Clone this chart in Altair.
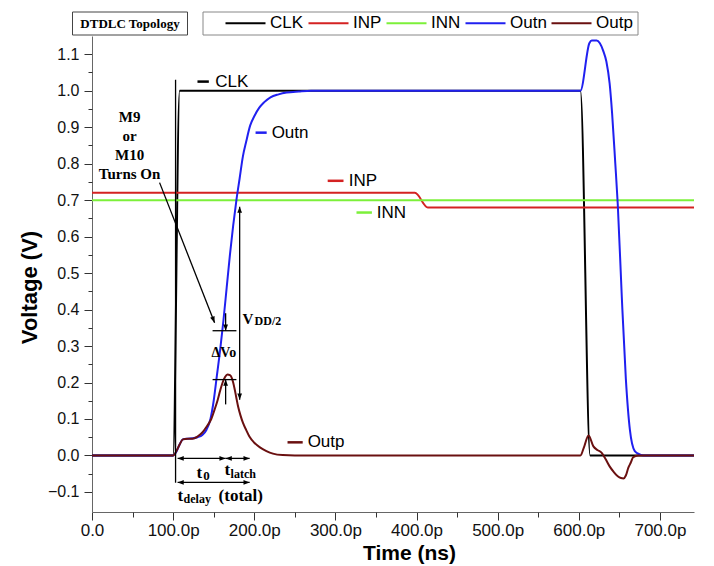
import altair as alt
import pandas as pd

# ---------------- data ----------------
names = ["CLK", "INP", "INN", "Outn", "Outp"]
colors = ["#000000", "#d42222", "#7cf03a", "#2020f0", "#6a1010"]

clk_t = [0, 100, 108, 602, 614, 742]
clk_v = [0, 0, 1.0, 1.0, 0, 0]

inp_t = [0, 398, 414, 742]
inp_v = [0.72, 0.72, 0.68, 0.68]

inn_t = [0, 742]
inn_v = [0.70, 0.70]

outn_t = [0, 100, 104, 108, 112, 118, 124, 130, 136, 141, 146, 150, 154, 158, 162, 166,
          170, 174, 178, 182, 186, 190, 195, 200, 206, 212, 220, 230, 240, 255, 270, 300,
          602, 613, 616, 622, 626, 630, 634, 638, 641, 645, 648, 653, 658, 663, 669, 675, 680, 742]
outn_v = [0, 0, 0.01, 0.03, 0.044, 0.046, 0.047, 0.05, 0.056, 0.07, 0.10, 0.15, 0.22, 0.29, 0.37, 0.46,
          0.55, 0.63, 0.70, 0.76, 0.82, 0.86, 0.905, 0.93, 0.953, 0.968, 0.982, 0.99, 0.995, 0.998, 1.0, 1.0,
          1.0, 1.13, 1.138, 1.138, 1.13, 1.11, 1.08, 1.02, 0.94, 0.80, 0.69, 0.435, 0.21, 0.07, 0.012, 0.003, 0.0, 0.0]

outp_t = [0, 100, 104, 108, 112, 118, 124, 130, 136, 141, 147, 151, 155, 158, 161, 164, 167,
          170, 172, 174, 176, 178, 180, 183, 186, 190, 194, 200, 207, 215, 223, 235, 250,
          602, 606, 612, 618, 623, 628, 633, 638, 643, 648, 652, 655, 658, 661, 664, 667, 673, 742]
outp_v = [0, 0, 0.012, 0.03, 0.044, 0.046, 0.046, 0.052, 0.063, 0.078, 0.10, 0.125, 0.153, 0.178, 0.20, 0.215, 0.222,
          0.22, 0.214, 0.20, 0.18, 0.157, 0.135, 0.11, 0.09, 0.07, 0.052, 0.035, 0.022, 0.012, 0.005, 0.001, 0,
          0, 0.02, 0.055, 0.025, 0.015, 0.008, -0.01, -0.03, -0.045, -0.057, -0.062, -0.063, -0.055, -0.034, -0.02, -0.005, 0, 0]

series_t = [clk_t, inp_t, inn_t, outn_t, outp_t]
series_v = [clk_v, inp_v, inn_v, outn_v, outp_v]

x_ticks = [0, 100, 200, 300, 400, 500, 600, 700]
x_minor = [50, 150, 250, 350, 450, 550, 650]
y_ticks = [-0.1, 0.0, 0.1, 0.2, 0.3, 0.4, 0.5, 0.6, 0.7, 0.8, 0.9, 1.0, 1.1]
y_minor = [-0.05, 0.05, 0.15, 0.25, 0.35, 0.45, 0.55, 0.65, 0.75, 0.85, 0.95, 1.05]

# in-plot series labels: segment start/end time, level, text start time
lab_series = ["CLK", "Outn", "INP", "INN", "Outp"]
lab_t1 = [130, 201.6, 290.5, 326, 241]
lab_t2 = [144, 215.3, 310, 345, 259.7]
lab_v = [1.025, 0.885, 0.753, 0.666, 0.036]
lab_tt = [152, 221.4, 316.4, 351, 265.8]

# annotation segments
seg_t1 = [103, 83.3, 182, 148.6, 148.6, 164.7, 164.7, 105.5, 164.7, 105.5]
seg_v1 = [1.03, 0.748, 0.682, 0.342, 0.208, 0.39, 0.14, -0.008, -0.008, -0.074]
seg_t2 = [103, 151.1, 182, 178, 178, 164.7, 164.7, 164.7, 194.3, 194.3]
seg_v2 = [-0.075, 0.364, 0.153, 0.342, 0.208, 0.342, 0.208, -0.008, -0.008, -0.074]

# arrow heads: position and direction (deg, clockwise from up)
head_t = [151.1, 182, 182, 164.7, 164.7, 105.5, 164.7, 164.7, 194.3, 105.5, 194.3]
head_v = [0.364, 0.682, 0.153, 0.342, 0.208, -0.008, -0.008, -0.008, -0.008, -0.074, -0.074]
head_a = [158.6, 0, 180, 180, 0, 270, 90, 270, 90, 270, 90]

# annotation texts (bold serif)
ann_text = ["V", "DD/2", "\u0394Vo", "t", "0", "t", "latch", "t", "delay", "(total)"]
ann_t = [185.6, 200.4, 147.4, 128.9, 137.0, 163.4, 170.8, 105.5, 112.9, 156]
ann_v = [0.373, 0.368, 0.282, -0.047, -0.056, -0.041, -0.050, -0.110, -0.119, -0.112]
ann_fs = [15, 12, 14, 17, 13, 17, 12, 17, 12, 17]

m9_text = ["M9\nor\nM10\nTurns On"]
m9_t = [46.3]
m9_v = [0.929]

# ---------------- tables ----------------
rows = []
for n, ts, vs in zip(names, series_t, series_v):
    for t, v in zip(ts, vs):
        rows.append({"series": n, "t": t, "v": v})
df = pd.DataFrame(rows)

cmap = dict(zip(names, colors))
labs = pd.DataFrame({"series": lab_series, "t1": lab_t1, "t2": lab_t2, "v": lab_v, "tt": lab_tt})
labs["col"] = labs["series"].map(cmap)
segs = pd.DataFrame({"t1": seg_t1, "v1": seg_v1, "t2": seg_t2, "v2": seg_v2})
heads = pd.DataFrame({"t": head_t, "v": head_v, "a": head_a})
anns = pd.DataFrame({"text": ann_text, "t": ann_t, "v": ann_v, "fs": ann_fs})
m9 = pd.DataFrame({"text": m9_text, "t": m9_t, "v": m9_v})

# ---------------- scales / axes ----------------
XS = alt.Scale(domain=[0, 742], nice=False, zero=False)
YS = alt.Scale(domain=[-0.155, 1.15], nice=False, zero=False)
CS = alt.Scale(domain=names, range=colors)

SANS = "Liberation Sans"
SERIF = "Liberation Serif"

x_main = alt.Axis(orient="bottom", values=x_ticks,
                  labelExpr="datum.value == 0 ? '0.0' : format(datum.value, '.1f') + 'p'",
                  tickSize=8, tickColor="#333", domainColor="#666", labelFont=SANS, labelFontSize=17,
                  labelColor="#111", labelPadding=2, grid=False, labelFlush=False,
                  title="Time (ns)", titleFont=SANS, titleFontSize=21, titleFontWeight="bold",
                  titleColor="#000", titleX=317, titleY=47, titleBaseline="alphabetic")
y_main = alt.Axis(orient="left", values=y_ticks, format=".1f",
                  tickSize=8, tickColor="#333", domainColor="#666", labelFont=SANS, labelFontSize=16,
                  labelColor="#111", labelPadding=5, grid=False, labelFlush=False,
                  title="Voltage (V)", titleFont=SANS, titleFontSize=22, titleFontWeight="bold",
                  titleColor="#000", titleX=-56, titleY=251, titleBaseline="alphabetic", titleAngle=270)
x_min = alt.Axis(orient="bottom", values=x_minor, labels=False, tickSize=5, tickColor="#333",
                 domain=False, grid=False, title=None)
y_min = alt.Axis(orient="left", values=y_minor, labels=False, tickSize=4, tickColor="#333",
                 domain=False, grid=False, title=None)

leg = alt.Legend(orient="none", legendX=129, legendY=-37.5, direction="horizontal", title=None,
                 symbolType="stroke", symbolSize=1600, symbolStrokeWidth=2.2,
                 labelFont=SANS, labelFontSize=17, labelColor="#000", labelOffset=3,
                 columnPadding=0, padding=3)

layers = []
for i, n in enumerate(names):
    layers.append(
        alt.Chart(df[df.series == n]).mark_line(strokeWidth=2, interpolate="monotone").encode(
            x=alt.X("t:Q", scale=XS, axis=x_main if i == 0 else None),
            y=alt.Y("v:Q", scale=YS, axis=y_main if i == 0 else None),
            color=alt.Color("series:N", scale=CS, legend=leg),
        )
    )

minor = alt.Chart(df).mark_point(opacity=0).encode(
    x=alt.X("t:Q", scale=XS, axis=x_min),
    y=alt.Y("v:Q", scale=YS, axis=y_min),
)

lab_seg = alt.Chart(labs).mark_rule(strokeWidth=2.5).encode(
    x=alt.X("t1:Q", scale=XS, axis=None), x2="t2:Q",
    y=alt.Y("v:Q", scale=YS, axis=None),
    color=alt.Color("col:N", scale=None),
)
lab_txt = alt.Chart(labs).mark_text(font=SANS, fontSize=17, align="left", baseline="middle", color="#000").encode(
    x=alt.X("tt:Q", scale=XS, axis=None),
    y=alt.Y("v:Q", scale=YS, axis=None),
    text="series:N",
)

seg = alt.Chart(segs).mark_rule(color="#000", strokeWidth=1.3).encode(
    x=alt.X("t1:Q", scale=XS, axis=None), x2="t2:Q",
    y=alt.Y("v1:Q", scale=YS, axis=None), y2="v2:Q",
)
ARROW = "M0,0L-0.5,1.3L0.5,1.3Z"
head = alt.Chart(heads).mark_point(shape=ARROW, filled=True, size=90, color="#000", opacity=1).encode(
    x=alt.X("t:Q", scale=XS, axis=None),
    y=alt.Y("v:Q", scale=YS, axis=None),
    angle=alt.Angle("a:Q", scale=None),
)
ann = alt.Chart(anns).mark_text(font=SERIF, fontWeight="bold", align="left", baseline="middle", color="#000").encode(
    x=alt.X("t:Q", scale=XS, axis=None),
    y=alt.Y("v:Q", scale=YS, axis=None),
    text="text:N",
    size=alt.Size("fs:Q", scale=None),
)
m9t = alt.Chart(m9).mark_text(font=SERIF, fontWeight="bold", fontSize=15, align="center", baseline="middle",
                              lineBreak="\n", lineHeight=19, color="#000").encode(
    x=alt.X("t:Q", scale=XS, axis=None),
    y=alt.Y("v:Q", scale=YS, axis=None),
    text="text:N",
)

one = pd.DataFrame({"k": ["DTDLC Topology"]})
box = alt.Chart(one).mark_rect(fill="white", stroke="#444", strokeWidth=1).encode(
    x=alt.value(-19.5), x2=alt.value(95.5), y=alt.value(-24), y2=alt.value(-1))
boxt = alt.Chart(one).mark_text(font=SERIF, fontWeight="bold", fontSize=13, align="center",
                                baseline="middle", color="#000").encode(
    x=alt.value(38), y=alt.value(-12.5), text="k:N")
lbox = alt.Chart(one).mark_rect(fill="white", stroke="#888", strokeWidth=1).encode(
    x=alt.value(111), x2=alt.value(546), y=alt.value(-24), y2=alt.value(-1))

chart = alt.layer(lbox, *layers, minor, lab_seg, lab_txt, seg, head, ann, m9t, box, boxt).resolve_axis(
    x="independent", y="independent"
).properties(
    width=602, height=476,
    autosize=alt.AutoSizeParams(type="none"),
    padding={"left": 92, "top": 36, "right": 20, "bottom": 54},
    background="white",
).configure_view(stroke=None)

chart.save("out.html", embed_options={"renderer": "svg", "actions": False})
